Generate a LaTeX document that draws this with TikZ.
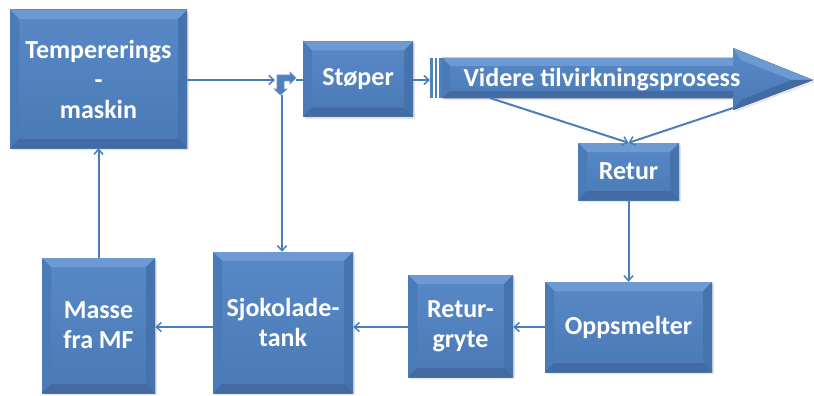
\documentclass[tikz,border=0pt]{standalone}
\usepackage{fontspec}
\setsansfont{Carlito}
\usetikzlibrary{arrows.meta,shadows}
\definecolor{boxblue}{HTML}{4F81BD}
\definecolor{boxtop}{HTML}{5889C7}
\definecolor{boxbot}{HTML}{4A7AB5}
\definecolor{bevlight}{HTML}{6E9AD3}
\definecolor{bevleft}{HTML}{4A7BB8}
\definecolor{bevright}{HTML}{4573AE}
\definecolor{bevdark}{HTML}{416BA2}
\definecolor{linkblue}{HTML}{4A7EBB}
\tikzset{
  bevbox/.style={rectangle, inner sep=0pt, top color=boxtop, bottom color=boxbot,
    text=white, align=center,
    font=\sffamily\bfseries\fontsize{26}{30}\selectfont,
    drop shadow={opacity=0.22, shadow xshift=2pt, shadow yshift=-2pt},
    path picture={
      \coordinate (nw) at (path picture bounding box.north west);
      \coordinate (ne) at (path picture bounding box.north east);
      \coordinate (sw) at (path picture bounding box.south west);
      \coordinate (se) at (path picture bounding box.south east);
      \fill[bevlight] (nw) -- (ne) -- ([shift={(-9pt,-9pt)}]ne) -- ([shift={(9pt,-9pt)}]nw) -- cycle;
      \fill[bevleft] (nw) -- ([shift={(9pt,-9pt)}]nw) -- ([shift={(9pt,9pt)}]sw) -- (sw) -- cycle;
      \fill[bevright] (ne) -- ([shift={(-9pt,-9pt)}]ne) -- ([shift={(-9pt,9pt)}]se) -- (se) -- cycle;
      \fill[bevdark] (sw) -- ([shift={(9pt,9pt)}]sw) -- ([shift={(-9pt,9pt)}]se) -- (se) -- cycle;
    }},
  conn/.style={draw=linkblue, line width=2pt, -{Straight Barb[length=5pt,width=9pt,line width=1.5pt]}},
  plain/.style={draw=linkblue, line width=2pt},
  arrowtext/.style={text=white, font=\sffamily\bfseries\fontsize{26}{30}\selectfont, inner sep=0pt}
}
\begin{document}
\begin{tikzpicture}[x=1pt, y=-1pt]
\useasboundingbox (0,0) rectangle (814,396);

% process boxes
\node[bevbox, minimum width=177pt, minimum height=138pt] (temp) at (98.5,79) {Tempererings\\-\\maskin};
\node[bevbox, minimum width=110pt, minimum height=75pt] (stoper) at (358,79) {Støper};
\node[bevbox, minimum width=101pt, minimum height=57pt] (retur) at (628.5,171.5) {Retur};
\node[bevbox, minimum width=167pt, minimum height=90pt] (opps) at (628.5,327) {Oppsmelter};
\node[bevbox, minimum width=105pt, minimum height=102pt] (gryte) at (460.5,326) {Retur-\\gryte};
\node[bevbox, minimum width=140pt, minimum height=141pt] (sjok) at (283,322.5) {Sjokolade-\\tank};
\node[bevbox, minimum width=113pt, minimum height=135pt] (masse) at (98.5,325.5) {Masse\\fra MF};

% striped block arrow for the rest of the process
\fill[drop shadow={opacity=0.2, shadow xshift=2pt, shadow yshift=-2pt}, top color=boxtop, bottom color=boxbot]
  (442,58) -- (733,58) -- (733,48) -- (813,80) -- (733,110) -- (733,98) -- (442,98) -- cycle;
\fill[bevlight] (442,58) -- (733,58) -- (733,66) -- (450,66) -- cycle;
\fill[bevlight] (733,48) -- (813,80) -- (792,80) -- (741,60) -- cycle;
\fill[bevdark] (733,110) -- (813,80) -- (792,80) -- (741,100) -- cycle;
\fill[bevdark] (442,98) -- (733,98) -- (733,91) -- (450,91) -- cycle;
\fill[bevleft] (442,58) -- (450,66) -- (450,91) -- (442,98) -- cycle;
\foreach \sx in {430,434.5,439}
  \fill[boxblue] (\sx,58) rectangle +(2.5,40);
\coordinate (arrin) at (430,80);
\coordinate (arrlow) at (490,98);
\coordinate (arrhead) at (733,108);
\node[arrowtext] (videre) at (602,80) {Videre tilvirkningsprosess};

% junction where the tank return joins the line to the moulder
\filldraw[fill=boxblue, draw=bevlight, line width=0.6pt]
  (277,75) -- (290,75) -- (290,72) -- (296,78) -- (290,84) -- (290,81) -- (284,81)
  -- (284,89) -- (287,89) -- (280.5,95) -- (274,89) -- (277,89) -- cycle;
\coordinate (jin) at (275,80);
\coordinate (jout) at (296,80);
\coordinate (jdown) at (282,95);

% connectors
\draw[conn] (temp.east |- jin) -- (jin);
\draw[plain] (jout) -- (stoper.west |- jout);
\draw[conn] (stoper.east |- arrin) -- (arrin);
\draw[conn] (jdown) -- (jdown |- sjok.north);
\draw[conn] (arrlow) -- (retur.north);
\draw[conn] (arrhead) -- (retur.north);
\draw[conn] (retur.south) -- (opps.north);
\draw[conn] (opps.west |- 0,327) -- (gryte.east |- 0,327);
\draw[conn] (gryte.west |- 0,327) -- (sjok.east |- 0,327);
\draw[conn] (sjok.west |- 0,327) -- (masse.east |- 0,327);
\draw[conn] (masse.north) -- (temp.south);
\end{tikzpicture}
\end{document}
